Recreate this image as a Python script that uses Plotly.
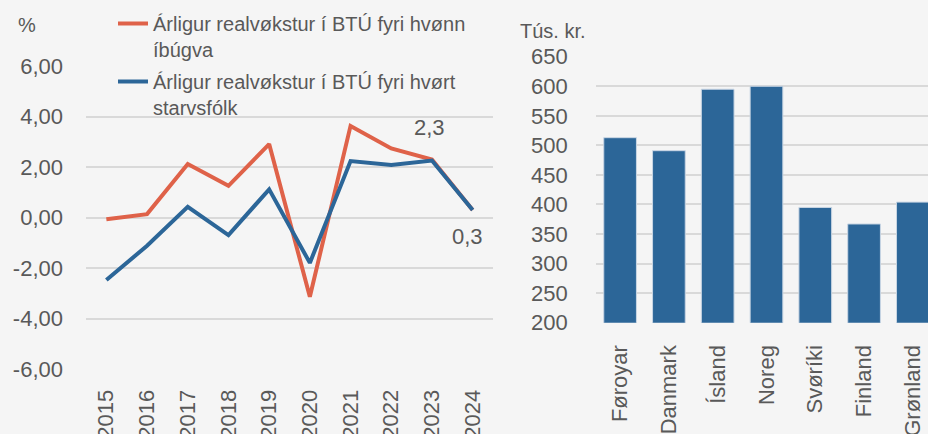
import plotly.graph_objects as go

# Annual real GDP growth, Faroe Islands (%)
years = [2015, 2016, 2017, 2018, 2019, 2020, 2021, 2022, 2023, 2024]
growth_per_capita = [-0.06, 0.14, 2.12, 1.26, 2.91, -3.13, 3.63, 2.74, 2.3, 0.3]
growth_per_worker = [-2.47, -1.11, 0.43, -0.69, 1.12, -1.79, 2.24, 2.08, 2.26, 0.3]
label_years = [2023, 2024]
pct_ticks = [-6, -4, -2, 0, 2, 4, 6]

# GDP per worker across the Nordic countries (thousand DKK)
countries = ["Føroyar", "Danmark", "Ísland", "Noreg", "Svøríki", "Finland", "Grønland"]
gdp_per_worker = [513, 491, 595, 600, 395, 367, 404]

name_capita = "Árligur realvøkstur í BTÚ fyri hvønn<br>íbúgva"
name_worker = "Árligur realvøkstur í BTÚ fyri hvørt<br>starvsfólk"

RED = "#DF6249"
BLUE = "#2C6698"
GREY = "#595959"
GRID = "#D9D9D9"
BG = "#F5F5F5"
FONT = "Liberation Sans, Arial, sans-serif"

W, H = 928, 434


def comma(v, digits):
    return f"{v:.{digits}f}".replace(".", ",")


fig = go.Figure()

fig.add_trace(go.Scatter(
    x=years, y=growth_per_capita, name=name_capita, mode="lines", legendgroup="capita",
    line=dict(color=RED, width=4), xaxis="x", yaxis="y",
))
fig.add_trace(go.Scatter(
    x=years, y=growth_per_worker, name=name_worker, mode="lines", legendgroup="worker",
    line=dict(color=BLUE, width=4), xaxis="x", yaxis="y",
))
fig.add_trace(go.Bar(
    x=countries, y=gdp_per_worker, marker=dict(color=BLUE, line=dict(color="#C9D6E4", width=1)),
    width=0.67, showlegend=False, xaxis="x2", yaxis="y2",
))

tick_font = dict(color=GREY, size=22, family=FONT)
text_font = dict(color=GREY, size=20, family=FONT)

# value labels on the last two years of the per-capita series
annotations = []
for yr, v in zip(years, growth_per_capita):
    if yr in label_years:
        above = yr != years[-1]
        annotations.append(dict(
            x=yr, y=v, xref="x", yref="y", text=comma(v, 1),
            showarrow=False, font=tick_font, xanchor="center", yanchor="middle",
            xshift=-2 if above else -5, yshift=32 if above else -26,
        ))

annotations += [
    dict(text="%", x=16 / W, y=1 - 25 / H, xref="paper", yref="paper",
         xanchor="left", yanchor="middle", showarrow=False, font=text_font),
    dict(text="Tús. kr.", x=518 / W, y=1 - 31 / H, xref="paper", yref="paper",
         xanchor="left", yanchor="middle", showarrow=False, font=text_font),
]

fig.update_layout(
    width=W, height=H,
    margin=dict(l=0, r=0, t=0, b=0, autoexpand=False),
    paper_bgcolor=BG, plot_bgcolor=BG,
    font=dict(family=FONT, color=GREY, size=20),
    xaxis=dict(domain=[86 / W, 493 / W], anchor="y", range=[2014.5, 2024.5],
               dtick=1, tickformat="d", tickangle=-90,
               tickfont=tick_font, showgrid=False, showline=False, ticks="",
               zeroline=False, ticklabelstandoff=15, automargin=False),
    yaxis=dict(domain=[(H - 369.3) / H, (H - 66) / H], anchor="x", range=[-6, 6],
               tickvals=pct_ticks, ticktext=[comma(t, 2) for t in pct_ticks],
               tickfont=tick_font, showgrid=True, gridcolor=GRID, gridwidth=2,
               zeroline=False, showline=False, ticks="", ticklabelstandoff=22,
               automargin=False),
    xaxis2=dict(domain=[595.7 / W, 1.0], anchor="y2", type="category", tickangle=-90,
                range=[-0.5, 6.31], tickfont=tick_font, showgrid=False, showline=False,
                ticks="", ticklabelstandoff=17, automargin=False),
    yaxis2=dict(domain=[(H - 322.7) / H, (H - 56.7) / H], anchor="x2", range=[200, 650],
                dtick=50, tickfont=tick_font, showgrid=True, gridcolor=GRID, gridwidth=2,
                zeroline=False, showline=False, ticks="", ticklabelstandoff=27,
                automargin=False),
    separators=",.",
    showlegend=True,
    legend=dict(x=113 / W, y=1 - 4 / H, xanchor="left", yanchor="top",
                bgcolor="rgba(0,0,0,0)", font=text_font,
                valign="top", tracegroupgap=3, itemwidth=30),
    bargap=0.33,
    annotations=annotations,
)

fig.write_html("out.html")
